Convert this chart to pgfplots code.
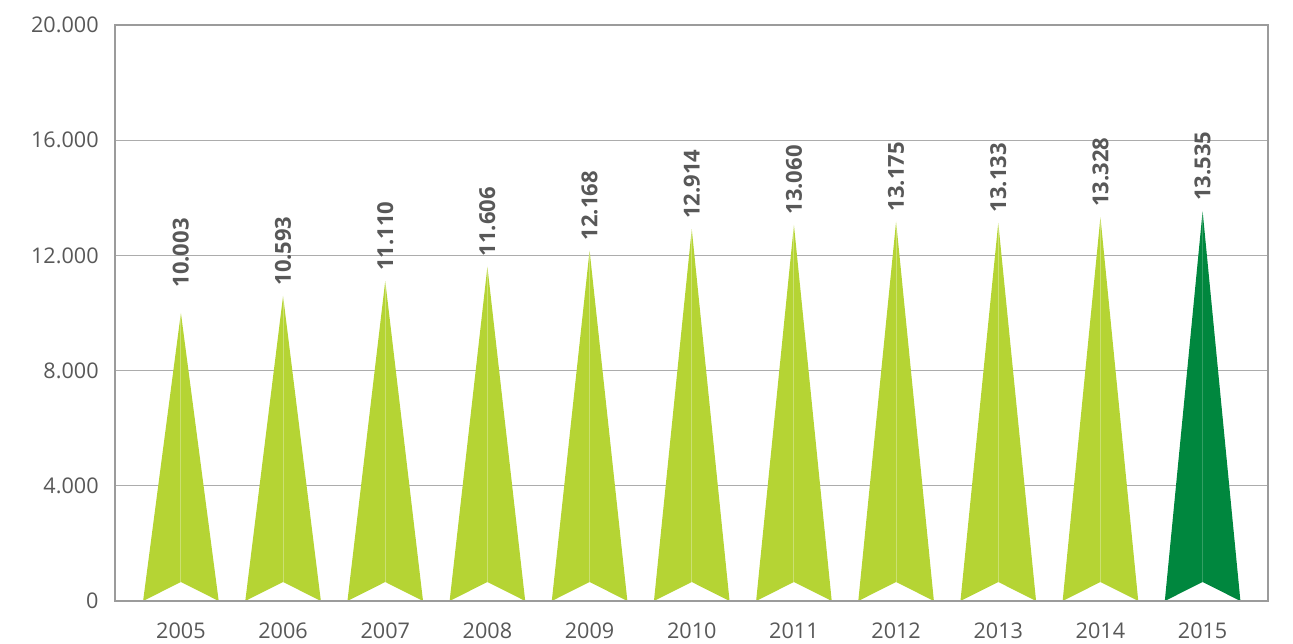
\documentclass[border=0pt]{standalone}
\usepackage{pgfplots}
\pgfplotsset{compat=1.18}
\usepackage{fontspec}
\setmainfont{Open Sans}
\definecolor{lg}{RGB}{181,212,52}
\definecolor{dg}{RGB}{0,135,62}
\definecolor{txt}{RGB}{88,88,88}
\definecolor{gridc}{RGB}{172,172,172}
\definecolor{axc}{RGB}{155,155,155}
\begin{document}
\begin{tikzpicture}
\useasboundingbox (-57.5bp,-21.5bp) rectangle (589bp,300.5bp);
\begin{axis}[at={(0,0)}, anchor=south west, scale only axis,
  width=576.5bp, height=288bp,
  xmin=-0.645, xmax=10.64, ymin=0, ymax=20000,
  xtick={0,1,2,3,4,5,6,7,8,9,10},
  xticklabels={2005,2006,2007,2008,2009,2010,2011,2012,2013,2014,2015},
  ytick={0,4000,8000,12000,16000,20000},
  scaled y ticks=false,
  ymajorgrids, major grid style={gridc, line width=0.65bp},
  major tick length=0pt,
  axis line style={axc, line width=0.9bp},
  tick label style={font=\fontsize{10.8bp}{12bp}\selectfont, text=txt},
  yticklabel style={inner sep=0pt, xshift=-8bp,
    /pgf/number format/1000 sep={.}, /pgf/number format/assume math mode=true},
  xticklabel style={inner sep=0pt, yshift=-10.5bp},
  clip=false,
  every axis plot/.append style={mark=none},
]
% arrow bars: (x-0.37,0) (x,value) (x+0.37,0) (x,notch)
\addplot[fill=lg, draw=none] coordinates {(-0.37,0) (0,10003) (0.37,0) (0,660)} -- cycle;
\addplot[fill=lg, draw=none] coordinates {(0.63,0) (1,10593) (1.37,0) (1,660)} -- cycle;
\addplot[fill=lg, draw=none] coordinates {(1.63,0) (2,11110) (2.37,0) (2,660)} -- cycle;
\addplot[fill=lg, draw=none] coordinates {(2.63,0) (3,11606) (3.37,0) (3,660)} -- cycle;
\addplot[fill=lg, draw=none] coordinates {(3.63,0) (4,12168) (4.37,0) (4,660)} -- cycle;
\addplot[fill=lg, draw=none] coordinates {(4.63,0) (5,12914) (5.37,0) (5,660)} -- cycle;
\addplot[fill=lg, draw=none] coordinates {(5.63,0) (6,13060) (6.37,0) (6,660)} -- cycle;
\addplot[fill=lg, draw=none] coordinates {(6.63,0) (7,13175) (7.37,0) (7,660)} -- cycle;
\addplot[fill=lg, draw=none] coordinates {(7.63,0) (8,13133) (8.37,0) (8,660)} -- cycle;
\addplot[fill=lg, draw=none] coordinates {(8.63,0) (9,13328) (9.37,0) (9,660)} -- cycle;
\addplot[fill=dg, draw=none] coordinates {(9.63,0) (10,13535) (10.37,0) (10,660)} -- cycle;
% centre lines
\addplot[draw=white, draw opacity=0.3, line width=0.5bp] coordinates {(0,660) (0,10003)};
\addplot[draw=white, draw opacity=0.3, line width=0.5bp] coordinates {(1,660) (1,10593)};
\addplot[draw=white, draw opacity=0.3, line width=0.5bp] coordinates {(2,660) (2,11110)};
\addplot[draw=white, draw opacity=0.3, line width=0.5bp] coordinates {(3,660) (3,11606)};
\addplot[draw=white, draw opacity=0.3, line width=0.5bp] coordinates {(4,660) (4,12168)};
\addplot[draw=white, draw opacity=0.3, line width=0.5bp] coordinates {(5,660) (5,12914)};
\addplot[draw=white, draw opacity=0.3, line width=0.5bp] coordinates {(6,660) (6,13060)};
\addplot[draw=white, draw opacity=0.3, line width=0.5bp] coordinates {(7,660) (7,13175)};
\addplot[draw=white, draw opacity=0.3, line width=0.5bp] coordinates {(8,660) (8,13133)};
\addplot[draw=white, draw opacity=0.3, line width=0.5bp] coordinates {(9,660) (9,13328)};
\addplot[draw=white, draw opacity=0.2, line width=0.5bp] coordinates {(10,660) (10,13535)};
% value labels
\addplot[draw=none, nodes near coords, point meta=explicit symbolic,
  nodes near coords style={rotate=90, anchor=west, inner xsep=12.5bp, inner ysep=0pt,
    font=\bfseries\fontsize{11bp}{13bp}\selectfont, text=txt}]
  coordinates {(0,10003) [10.003]};
\addplot[draw=none, nodes near coords, point meta=explicit symbolic,
  nodes near coords style={rotate=90, anchor=west, inner xsep=5bp, inner ysep=0pt,
    font=\bfseries\fontsize{11bp}{13bp}\selectfont, text=txt}]
  coordinates {(1,10593) [10.593] (2,11110) [11.110] (3,11606) [11.606]
    (4,12168) [12.168] (5,12914) [12.914] (6,13060) [13.060] (7,13175) [13.175]
    (8,13133) [13.133] (9,13328) [13.328] (10,13535) [13.535]};
\draw[axc, line width=1.3bp] (rel axis cs:0,1) -- (rel axis cs:0,0) -- (rel axis cs:1,0);
\end{axis}
\end{tikzpicture}
\end{document}
